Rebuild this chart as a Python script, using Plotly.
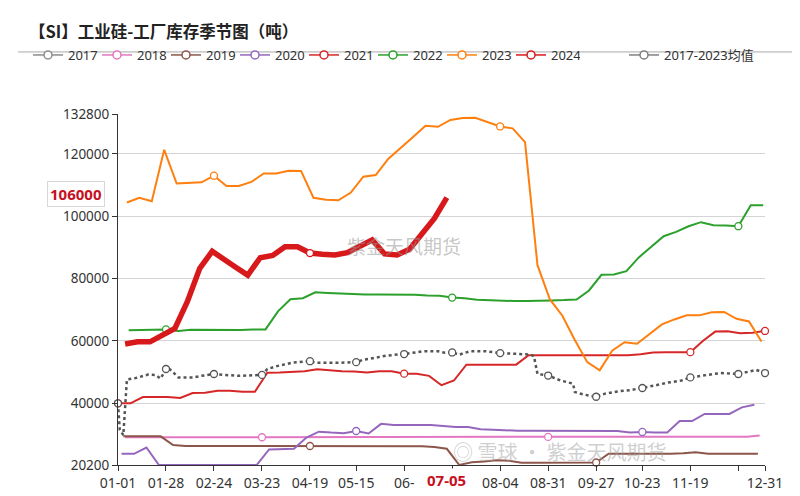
import pandas as pd
import plotly.graph_objects as go

# ---------------- data ----------------
title_text = "【SI】工业硅-工厂库存季节图（吨）"
series_names = ["2017", "2018", "2019", "2020", "2021", "2022", "2023", "2024", "2017-2023均值"]
series_colors = ["#8c8c8c", "#e377c2", "#8c564b", "#9467bd", "#d62728", "#2ca02c", "#ff7f0e", "#d7191c", "#7f7f7f"]

# weekly (Friday) observation dates of each year
dates_2018 = pd.date_range("2018-01-05", "2018-12-28", freq="7D")
dates_2019 = pd.date_range("2019-01-04", "2019-12-27", freq="7D")
dates_2020 = pd.date_range("2020-01-03", "2020-12-25", freq="7D")
dates_2021 = pd.date_range("2021-01-01", "2021-12-31", freq="7D")
dates_2022 = pd.date_range("2022-01-07", "2022-12-30", freq="7D")
dates_2023 = pd.date_range("2023-01-06", "2023-12-29", freq="7D")
dates_2024 = pd.date_range("2024-01-05", "2024-07-05", freq="7D")

vals_2017 = []
vals_2018 = [29100, 29100, 29100, 29100, 29100, 29100, 29100, 29100, 29100, 29100,
             29100, 29100, 29100, 29100, 29100, 29100, 29100, 29100, 29100, 29100,
             29200, 29200, 29200, 29200, 29200, 29200, 29200, 29200, 29200, 29200,
             29200, 29200, 29200, 29200, 29200, 29200, 29200, 29200, 29200, 29200,
             29200, 29200, 29200, 29200, 29200, 29200, 29200, 29200, 29200, 29300,
             29300, 29700]
vals_2019 = [29400, 29400, 29400, 29400, 26600, 26300, 26300, 26300, 26300, 26300,
             26300, 26300, 26300, 26300, 26300, 26300, 26300, 26300, 26300, 26300,
             26300, 26300, 26300, 26300, 26200, 26000, 25400, 20200, 21100, 21300,
             21700, 21600, 20900, 20900, 20900, 20900, 20900, 20900, 21000, 23800,
             23800, 23700, 23700, 23700, 23800, 24000, 24300, 23800, 23800, 23800,
             23800, 23800]
vals_2020 = [23800, 23800, 25800, 20200, 20200, 20200, 20200, 20200, 20200, 20200,
             20200, 20200, 25200, 25300, 25400, 29000, 30900, 30600, 30400, 31100,
             30300, 33400, 33000, 33000, 33000, 33000, 32700, 32400, 32400, 31700,
             31500, 31300, 31200, 31200, 31200, 31200, 31200, 31200, 31100, 31100,
             31100, 30600, 30800, 30600, 30600, 34300, 34300, 36600, 36600, 36600,
             38700, 39500]
vals_2021 = [40000, 40000, 42000, 42000, 42000, 41700, 43300, 43400, 44000, 44000,
             43700, 43700, 49800, 49900, 50000, 50300, 50900, 50500, 50300, 50200,
             49900, 50300, 50300, 49500, 49500, 48800, 45800, 47300, 52400, 52400,
             52400, 52400, 52400, 55400, 55400, 55400, 55400, 55400, 55400, 55400,
             55400, 55400, 55700, 56300, 56400, 56400, 56400, 60000, 63000, 63100,
             62500, 62600, 63200]
vals_2022 = [63400, 63400, 63600, 63700, 63200, 63600, 63600, 63400, 63400, 63500,
             63700, 63700, 69500, 73400, 73700, 75600, 75400, 75200, 74900, 74900,
             74900, 74900, 74900, 74800, 74600, 74500, 73900, 73700, 73200, 73000,
             72800, 72800, 72800, 72800, 73000, 73100, 73300, 76200, 81200, 81300,
             82400, 86800, 90300, 93600, 95000, 96800, 98100, 97100, 97000, 96800,
             103500, 103500]
vals_2023 = [104400, 105900, 104800, 121300, 110500, 110600, 110900, 113000, 109700, 109700,
             111000, 113700, 113700, 114600, 114500, 105900, 105300, 105100, 107600, 112700,
             113200, 118400, 121800, 125400, 129000, 128700, 130900, 131500, 131600, 130300,
             128800, 128200, 123800, 84300, 73300, 68100, 60300, 53200, 50600, 56900,
             59600, 59100, 62200, 65300, 66900, 68200, 68200, 69200, 69300, 67100,
             66250, 59800]
vals_2024 = [59000, 59700, 59700, 61800, 64000, 72600, 83300, 88750, 86200, 83700,
             81100, 86700, 87400, 90200, 90200, 88200, 87800, 87600, 88300, 90500,
             92400, 87900, 87600, 89400, 94500, 99300, 106000]

avg_dates = ["01-01", "01-02", "01-04", "01-06", "01-11", "01-18", "01-22", "01-25", "01-28", "01-30",
             "02-04", "02-12", "02-17", "02-24", "03-02", "03-10", "03-23", "03-26", "04-01", "04-09",
             "04-19", "04-22", "05-06", "05-15", "05-19", "05-23", "06-01", "06-11", "06-22", "06-30",
             "07-04", "07-08", "07-12", "07-18", "07-27", "08-04", "08-12", "08-21", "08-23", "08-25",
             "08-31", "09-07", "09-14", "09-15", "09-20", "09-27", "10-02", "10-09", "10-16", "10-23",
             "10-30", "11-06", "11-14", "11-19", "11-28", "12-06", "12-16", "12-21", "12-26", "12-31"]
avg_vals = [40000, 31500, 29800, 47600, 48100, 49200, 49100, 47900, 51000, 51000,
            48300, 48300, 48800, 49400, 49100, 48800, 49100, 51000, 52000, 53000,
            53500, 53000, 53000, 53200, 54000, 54300, 55300, 55800, 56700, 56700,
            56200, 56300, 55600, 56700, 56700, 56100, 55900, 55600, 55100, 49400,
            48900, 47300, 46300, 43600, 42800, 42100, 43100, 43800, 44200, 44900,
            45700, 46600, 47300, 48300, 49100, 49700, 49400, 50100, 50700, 49700]

tick_dates = ["01-01", "01-28", "02-24", "03-23", "04-19", "05-15", "06-11", "07-08",
              "08-04", "08-31", "09-27", "10-23", "11-19", "12-16", "12-31"]
tick_labels = ["01-01", "01-28", "02-24", "03-23", "04-19", "05-15", "06-", "",
               "08-04", "08-31", "09-27", "10-23", "11-19", "", "12-31"]
y_ticks = [20200, 40000, 60000, 80000, 100000, 120000, 132800]
y_tick_labels = ["20200", "40000", "60000", "80000", "100000", "120000", "132800"]
current_date = "07-05"
current_value_label = "106000"
current_value = 106000

# ---------------- figure ----------------
FRAME_YEAR = "2023-"


def md(dates):
    return [d.strftime("%m-%d") for d in dates]


series = [
    ("2017", [], vals_2017),
    ("2018", md(dates_2018), vals_2018),
    ("2019", md(dates_2019), vals_2019),
    ("2020", md(dates_2020), vals_2020),
    ("2021", md(dates_2021), vals_2021),
    ("2022", md(dates_2022), vals_2022),
    ("2023", md(dates_2023), vals_2023),
    ("2024", md(dates_2024), vals_2024),
    ("2017-2023均值", avg_dates, avg_vals),
]

fig = go.Figure()
for (name, mmdd, vals), color in zip(series, series_colors):
    x = [FRAME_YEAR + d for d in mmdd]
    is_avg = name.endswith("均值")
    if name == "2024":
        line = dict(color=color, width=5.5)
    elif is_avg:
        line = dict(color="#555555", width=2.5, dash="dot")
    else:
        line = dict(color=color, width=2)
    if x:
        fig.add_trace(go.Scatter(x=x, y=vals, mode="lines", line=line, showlegend=False,
                                 hoverinfo="skip", cliponaxis=False))
        mx = [xx for xx, d in zip(x, mmdd) if d in tick_dates]
        my = [v for v, d in zip(vals, mmdd) if d in tick_dates]
        mcol = "#555555" if is_avg else color
        fig.add_trace(go.Scatter(x=mx, y=my, mode="markers", showlegend=False, hoverinfo="skip",
                                 marker=dict(symbol="circle", size=7, color="white",
                                             line=dict(color=mcol, width=1.3)),
                                 cliponaxis=False))
    # legend proxy
    fig.add_trace(go.Scatter(x=[None], y=[None], mode="lines+markers", name=name,
                             legend="legend2" if is_avg else "legend",
                             line=dict(color=color, width=1.5),
                             marker=dict(symbol="circle", size=8, color="white",
                                         line=dict(color=color, width=1.5))))

W, H = 800, 496
L, R, T, B = 110, 43, 106, 28
pw, ph = W - L - R, H - T - B


def px_x(px):
    return (px - L) / pw


def px_y(py):
    return (H - B - py) / ph


legend_font = dict(size=13, color="#333333", family="Noto Sans, Noto Sans CJK SC")

fig.update_layout(
    width=W, height=H,
    margin=dict(l=L, r=R, t=T, b=B),
    paper_bgcolor="white", plot_bgcolor="white",
    font=dict(family="Noto Sans, Noto Sans CJK SC, sans-serif", color="#333333", size=13),
    title=dict(text="<b>" + title_text + "</b>", xref="container", yref="container",
               x=21 / W, y=1 - 24 / H, xanchor="left", yanchor="middle",
               font=dict(size=16.5, color="#222222", family="Noto Sans CJK SC")),
    legend=dict(orientation="h", xref="container", yref="container",
                x=20 / W, y=1 - 47 / H, xanchor="left", yanchor="middle",
                entrywidth=24, entrywidthmode="pixels", traceorder="normal",
                font=legend_font, bgcolor="rgba(0,0,0,0)",
                itemclick=False, itemdoubleclick=False),
    legend2=dict(orientation="h", xref="container", yref="container",
                 x=616 / W, y=1 - 47 / H, xanchor="left", yanchor="middle",
                 font=legend_font, bgcolor="rgba(0,0,0,0)",
                 itemclick=False, itemdoubleclick=False),
    xaxis=dict(type="date", range=[FRAME_YEAR + "01-01", FRAME_YEAR + "12-31"],
               tickvals=[FRAME_YEAR + d for d in tick_dates], ticktext=tick_labels,
               showgrid=False, showline=True, linecolor="#333333", linewidth=1,
               ticks="outside", ticklen=5, tickcolor="#333333",
               tickfont=dict(size=14, color="#333333"), zeroline=False, fixedrange=True),
    yaxis=dict(range=[y_ticks[0], y_ticks[-1]], tickvals=y_ticks, ticktext=y_tick_labels,
               showgrid=True, gridcolor="#d4d4d4", gridwidth=1,
               showline=True, linecolor="#333333", linewidth=1,
               ticks="outside", ticklen=5, tickcolor="#333333",
               tickfont=dict(size=13.5, color="#333333"), zeroline=False, fixedrange=True),
    hovermode=False,
)

# separator line under the title
fig.add_shape(type="line", xref="paper", yref="paper", x0=px_x(10), x1=px_x(790),
              y0=px_y(42), y1=px_y(42), line=dict(color="#aaaaaa", width=1))

# current value / date labels
fig.add_annotation(xref="paper", yref="y", x=px_x(97), y=current_value, xanchor="right",
                   yanchor="middle", yshift=4, text="<b>" + current_value_label + "</b>",
                   showarrow=False, font=dict(size=15, color="#c8101e"),
                   bgcolor="white", bordercolor="#d8d8d8", borderwidth=1, borderpad=2)
fig.add_annotation(xref="x", yref="paper", x=FRAME_YEAR + current_date, y=px_y(483),
                   xanchor="center", yanchor="middle", text="<b>" + current_date + "</b>",
                   showarrow=False, font=dict(size=15, color="#c8101e"),
                   bgcolor="white", borderpad=1)

# watermarks
fig.add_annotation(xref="paper", yref="paper", x=px_x(396), y=px_y(242), text="紫金天风期货",
                   showarrow=False, font=dict(size=19, color="rgba(150,150,150,0.55)",
                                              family="Noto Sans CJK SC"))
fig.add_annotation(xref="paper", yref="paper", x=px_x(660), y=px_y(471), text="◎ 雪球 · 紫金天风期货",
                   showarrow=False, font=dict(size=20, color="rgba(160,160,160,0.5)",
                                              family="Noto Sans CJK SC"))

fig.write_html("out.html")
